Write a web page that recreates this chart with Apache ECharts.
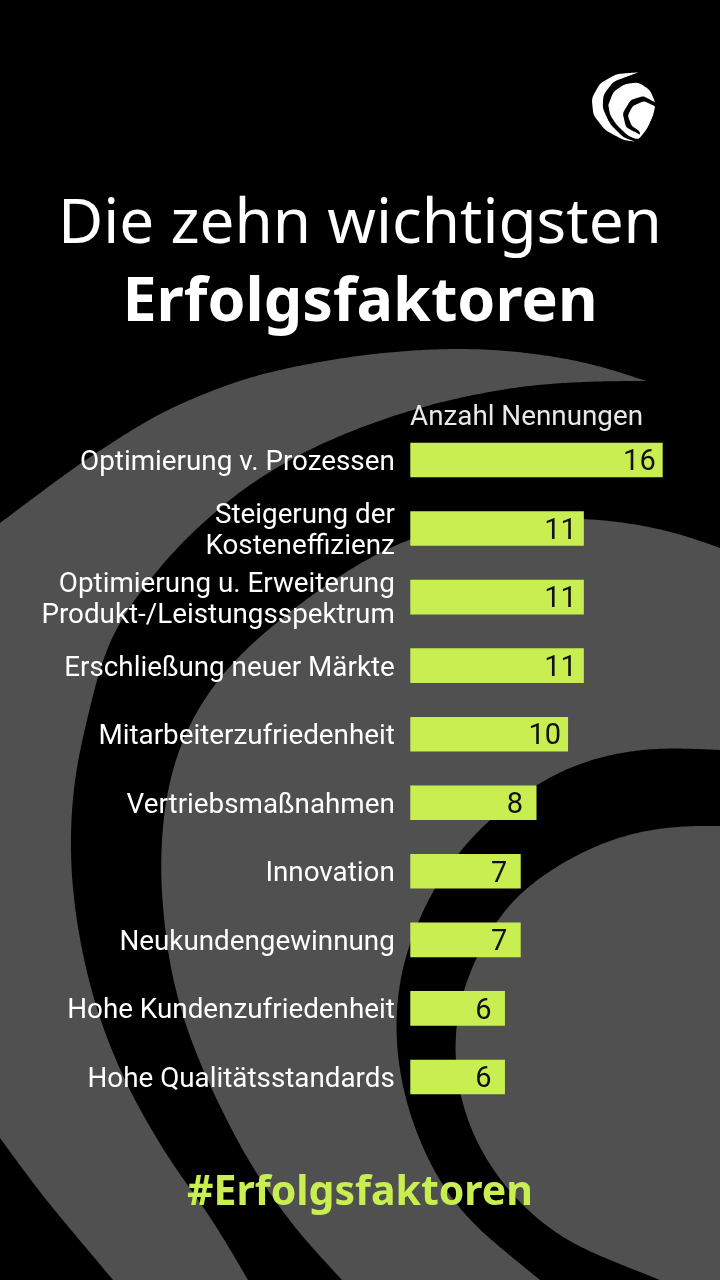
<!DOCTYPE html>
<html><head><meta charset="utf-8">
<style>html,body{margin:0;padding:0;background:#000}#c{width:720px;height:1280px}</style>
<script src="https://cdn.jsdelivr.net/npm/echarts@6/dist/echarts.min.js"></script>
</head><body><div id="c"></div>
<script>
const categories = ["Optimierung v. Prozessen","Steigerung der\nKosteneffizienz","Optimierung u. Erweiterung\nProdukt-/Leistungsspektrum","Erschließung neuer Märkte","Mitarbeiterzufriedenheit","Vertriebsmaßnahmen","Innovation","Neukundengewinnung","Hohe Kundenzufriedenheit","Hohe Qualitätsstandards"];
const values = [16,11,11,11,10,8,7,7,6,6];
const titleLine1 = "Die zehn wichtigsten";
const titleLine2 = "Erfolgsfaktoren";
const axisCaption = "Anzahl Nennungen";
const hashtag = "#Erfolgsfaktoren";

const GREY="#505050", LIME="#c9ee52";
// Smooth a hand-read outline of the decorative background: resample evenly, then low-pass.
function sm(p,step,passes){
 if(p.length<3)return p.slice();
 const r=[p[0]];let left=step;
 for(let i=0;i<p.length-1;i++){let a=p[i];const b=p[i+1];let d=Math.hypot(b[0]-a[0],b[1]-a[1]);
  while(d>=left){const t=left/d;a=[a[0]+(b[0]-a[0])*t,a[1]+(b[1]-a[1])*t];r.push(a);d-=left;left=step;}
  left-=d;}
 r.push(p[p.length-1]);
 let q=r;
 for(let n=0;n<passes;n++){const o=q.map(x=>x.slice());
  for(let i=1;i<q.length-1;i++)for(let j=0;j<2;j++)o[i][j]=.25*q[i-1][j]+.5*q[i][j]+.25*q[i+1][j];
  q=o;}
 return q;}
function poly(parts,fill,z,step,passes){let pts=[];for(const s of parts)pts=pts.concat(sm(s,step||3,passes===undefined?160:passes));return {type:"polygon",silent:true,z:z,shape:{points:pts},style:{fill:fill}};}
function zoomed(pts){return pts.map(p=>[560+p[0]/3,50+p[1]/3]);}

const swirl=[
 poly([[[646,381],[593,363],[527,352],[470,348],[410,350],[360,355],[300,365],[240,379],[160,412],[80,463],[0,523]],
       [[0,523],[0,1138]],
       [[0,1138],[40,1193],[113,1280]],
       [[113,1280],[720,1280]],[[720,1280],[720,381]]],GREY,-10),
 poly([[[646,381],[593,381],[527,385],[460,397],[410,410],[360,427],[300,453],[240,490],[183,540],[143,587],[113,630],[100,665],[87,720],[75,770],[70,827],[71,877],[77,927],[88,980],[103,1030],[127,1087],[167,1157],[213,1220],[248,1280]],
       [[248,1280],[342,1280]],
       [[342,1280],[293,1227],[247,1160],[213,1093],[190,1040],[172,980],[165,933],[160,877],[162,823],[170,773],[187,727],[205,695],[240,653],[300,603],[360,562],[410,537],[460,525],[520,518],[583,518],[627,522],[677,532],[720,548]],
       [[720,548],[720,381]],[[720,381],[646,381]]],"#000",-9),
 poly([[[720,750],[660,747],[610,753],[567,767],[537,783],[487,820],[457,853],[432,890],[417,922],[403,960],[396,1000],[395,1037],[400,1080],[413,1127],[437,1180],[470,1223],[540,1280]],
       [[540,1280],[660,1280]],
       [[660,1280],[567,1243],[517,1203],[480,1153],[460,1103],[453,1050],[456,1015],[465,980],[493,923],[520,890],[577,853],[627,833],[677,825],[720,826]],
       [[720,826],[720,750]]],"#000",-9)
];
const logo=[
 poly([zoomed([[235,67],[170,72],[120,100],[95,145],[100,195],[135,240],[190,270],[225,275]]),zoomed([[225,275],[190,262],[150,222],[128,175],[130,135],[160,95],[235,67]])],"#fff",-5,.5,60),
 poly([zoomed([[145,165],[160,125],[195,102],[235,97],[270,120],[287,160],[280,195],[262,235],[235,270],[205,258],[170,225],[150,195],[145,165]])],"#fff",-5,.5,60),
 poly([zoomed([[287,158],[250,138],[212,150],[188,190],[198,232],[240,254]]),zoomed([[240,254],[240,244],[215,228],[203,197],[218,168],[252,153],[287,170]])],"#000",-3,.5,25)
];

const chart=echarts.init(document.getElementById("c"),null,{renderer:"canvas"});
function txt(t,top,size,weight,color){return {text:t,left:360,top:top,padding:0,textAlign:"center",textStyle:{color:color,fontSize:size,fontWeight:weight,fontFamily:"Noto Sans"}};}
chart.setOption({
 backgroundColor:"#000",animation:false,
 graphic:{elements:swirl.concat(logo)},
 title:[
  txt(titleLine1,194,62,"normal","#fff"),
  txt(titleLine2,273,61,"bold","#fff"),
  txt(hashtag,1173,41,"bold",LIME),
  {text:axisCaption,left:410,top:404,padding:0,textStyle:{color:"#e8e8e8",fontSize:27.8,fontWeight:"normal",fontFamily:"Roboto"}}
 ],
 grid:{left:410.3,top:425.7,width:252.4,height:685.5},
 xAxis:{type:"value",min:0,max:16,show:false},
 yAxis:{type:"category",inverse:true,data:categories,axisLine:{show:false},axisTick:{show:false},
  axisLabel:{margin:15.5,align:"right",interval:0,
   formatter:v=>v.split("\n").map(s=>"{a|"+s+"}").join("\n"),
   rich:{a:{color:"#fff",fontSize:27.8,fontFamily:"Roboto",lineHeight:31,padding:[6,0,0,0],align:"right"}}}},
 series:[{type:"bar",barWidth:34.6,itemStyle:{color:LIME},
  data:values.map(v=>({value:v,label:{distance:v<10?13.5:7}})),
  label:{show:true,position:"insideRight",offset:[0,3],color:"#111",fontSize:29,fontFamily:"Roboto"}}]
});
</script></body></html>
